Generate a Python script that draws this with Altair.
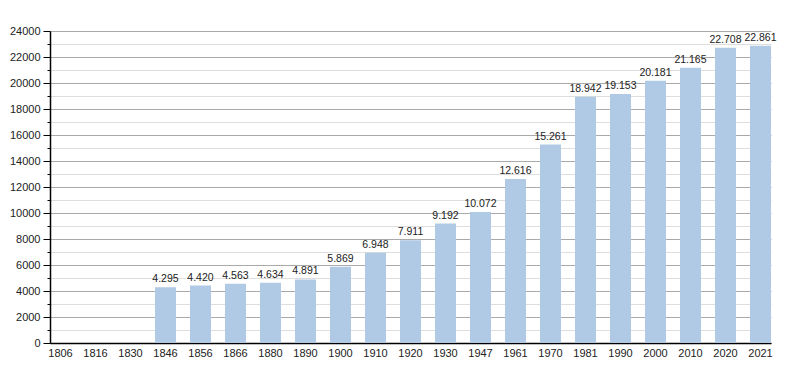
import altair as alt
import pandas as pd

years = ["1806", "1816", "1830", "1846", "1856", "1866", "1880", "1890", "1900", "1910",
         "1920", "1930", "1947", "1961", "1970", "1981", "1990", "2000", "2010", "2020", "2021"]
population = [None, None, None, 4295, 4420, 4563, 4634, 4891, 5869, 6948,
              7911, 9192, 10072, 12616, 15261, 18942, 19153, 20181, 21165, 22708, 22861]
y_ticks = list(range(0, 24001, 1000))

df = pd.DataFrame({"year": years, "pop": population})

FONT = "Liberation Sans"
major = "datum.value % 2000 === 0"

x = alt.X("year:N", sort=years, title=None,
          scale=alt.Scale(paddingInner=0.4, paddingOuter=0),
          axis=alt.Axis(labelAngle=0, ticks=False, domainColor="#000", domainWidth=1.5,
                        labelPadding=4, labelFont=FONT, labelFontSize=11, labelColor="#222"))
y = alt.Y("pop:Q", title=None, scale=alt.Scale(domain=[0, 24000], nice=False),
          axis=alt.Axis(values=y_ticks, labelExpr=f"{major} ? datum.value : ''",
                        labelOverlap=False, format="d", domainColor="#000", domainWidth=1.5,
                        tickColor="#000",
                        tickSize={"condition": {"test": major, "value": 7}, "value": 3},
                        gridColor={"condition": {"test": major, "value": "#aaaaaa"}, "value": "#dedede"},
                        labelPadding=3, labelFont=FONT, labelFontSize=11, labelColor="#222"))

bars = alt.Chart(df).mark_bar(color="#b0c9e4").encode(x=x, y=y)

labels = alt.Chart(df).transform_filter("isValid(datum.pop)").transform_calculate(
    lbl="replace(format(datum.pop, ','), ',', '.')"
).mark_text(baseline="bottom", dy=-3, font=FONT, fontSize=10.5, color="#222").encode(
    x=x, y=y, text="lbl:N",
)

chart = alt.layer(bars, labels).properties(
    width=721, height=312,
    autosize=alt.AutoSizeParams(type="none"),
    padding={"left": 42, "top": 23, "right": 20, "bottom": 22},
).configure_view(stroke=None).configure_axis(gridWidth=1)

chart.save("out.html", embed_options={"renderer": "svg", "actions": False})
